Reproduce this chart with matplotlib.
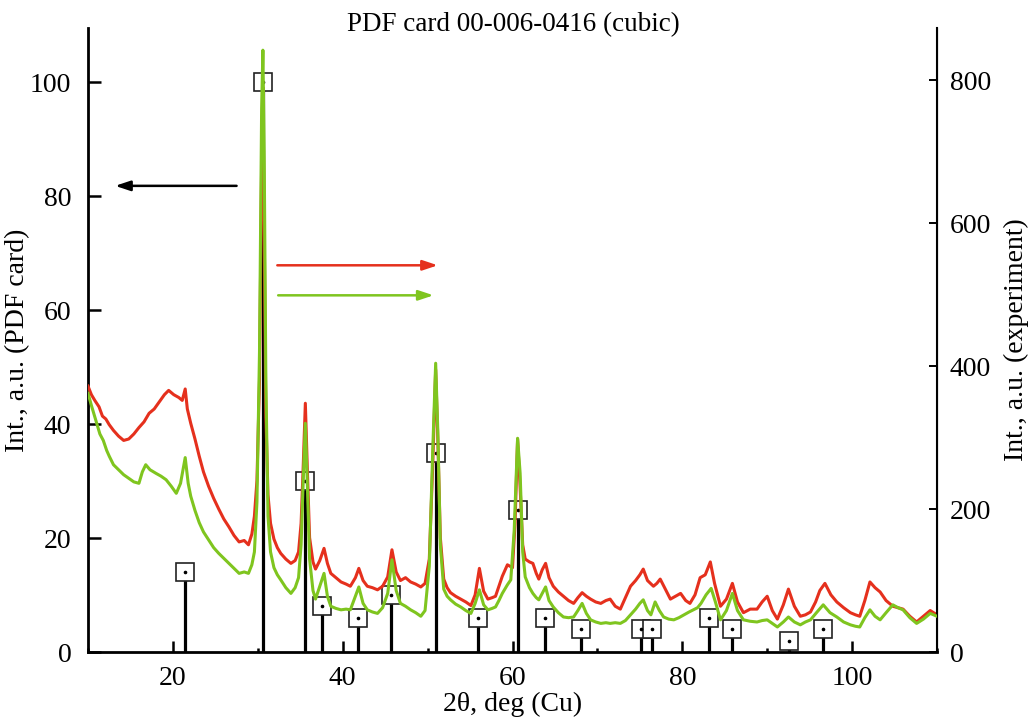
import matplotlib
matplotlib.use("Agg")
import matplotlib.pyplot as plt
from matplotlib.ticker import MultipleLocator

plt.rcParams['font.family'] = ['Liberation Serif', 'DejaVu Serif']
plt.rcParams['mathtext.fontset'] = 'stix'

# PDF card 00-006-0416 reference lines (left axis)
pdf_pos = [21.4, 30.6, 35.6, 37.6, 41.8, 45.7, 51.0, 55.9, 60.7, 63.8, 68.1,
           75.1, 76.4, 83.2, 85.9, 92.6, 96.6]
pdf_int = [14, 100, 30, 8, 6, 10, 35, 6, 25, 6, 4, 4, 4, 6, 4, 2, 4]

# experimental pattern 1 (red), right axis
red_x = [10.0, 10.4, 10.8, 11.3, 11.7, 12.1, 12.5, 13.0, 13.6, 14.2, 14.8, 15.4, 16.0, 16.6, 17.2,
         17.8, 18.4, 19.0, 19.5, 20.1, 20.7, 21.1, 21.45, 21.7, 22.1, 22.6, 23.1, 23.6, 24.2, 24.8,
         25.4, 26.0, 26.6, 27.2, 27.8, 28.4, 28.9, 29.3, 29.6, 29.9, 30.2, 30.45, 30.6, 30.75, 30.95,
         31.2, 31.5, 31.9, 32.3, 32.7, 33.3, 33.9, 34.4, 34.8, 35.1, 35.35, 35.6, 35.85, 36.1, 36.5,
         36.8, 37.3, 37.8, 38.2, 38.6, 39.2, 39.8, 40.4, 40.9, 41.5, 41.9, 42.4, 42.9, 43.5, 44.1,
         44.7, 45.3, 45.8, 46.3, 46.8, 47.4, 48.0, 48.6, 49.2, 49.7, 50.2, 50.6, 50.95, 51.2, 51.5,
         51.9, 52.3, 52.7, 53.3, 53.9, 54.5, 55.1, 55.6, 56.1, 56.6, 57.1, 57.6, 58.0, 58.4, 58.8,
         59.4, 60.0, 60.3, 60.6, 60.9, 61.2, 61.5, 62.0, 62.4, 62.8, 63.1, 63.5, 63.9, 64.3, 64.8,
         65.4, 66.0, 66.6, 67.2, 67.7, 68.2, 68.7, 69.2, 69.8, 70.4, 71.0, 71.5, 72.1, 72.7, 73.3,
         73.9, 74.5, 75.0, 75.4, 75.9, 76.6, 77.0, 77.4, 78.0, 78.6, 79.2, 79.8, 80.4, 80.9, 81.5,
         82.1, 82.7, 83.3, 83.8, 84.5, 85.2, 85.9, 86.5, 87.2, 88.0, 88.8, 89.4, 90.0, 90.6, 91.2,
         91.9, 92.5, 93.2, 93.9, 94.5, 95.1, 95.7, 96.2, 96.8, 97.5, 98.2, 99.0, 99.8, 100.4, 100.9,
         101.5, 102.1, 102.7, 103.3, 104.0, 104.8, 105.4, 106.0, 106.8, 107.6, 108.4, 109.2, 110.0]
red_y = [372, 360, 352, 343, 330, 326, 318, 310, 302, 296, 298, 305, 314, 322, 334,
         340, 350, 360, 366, 360, 356, 352, 368, 340, 320, 298, 274, 252, 232, 215,
         200, 186, 175, 163, 154, 156, 150, 165, 190, 240, 380, 680, 790, 600, 330,
         220, 180, 158, 146, 138, 130, 124, 128, 140, 180, 260, 348, 250, 160, 126,
         116, 128, 145, 124, 110, 104, 98, 95, 92, 104, 117, 100, 92, 90, 87,
         92, 105, 143, 112, 100, 104, 98, 95, 91, 96, 130, 260, 395, 300, 160,
         102, 90, 83, 78, 74, 70, 65, 80, 117, 85, 74, 76, 78, 92, 106,
         122, 118, 180, 298, 230, 150, 130, 126, 124, 110, 102, 115, 124, 104, 92,
         84, 78, 72, 68, 76, 83, 78, 74, 70, 68, 72, 74, 64, 60, 76,
         92, 100, 108, 116, 100, 92, 96, 102, 88, 74, 78, 82, 72, 68, 80,
         104, 108, 126, 96, 64, 74, 96, 70, 55, 60, 60, 70, 78, 58, 46,
         66, 88, 64, 50, 52, 56, 70, 86, 96, 80, 70, 62, 55, 52, 50,
         72, 98, 90, 84, 72, 64, 62, 60, 50, 42, 50, 58, 52]

# experimental pattern 2 (green), right axis
green_x = [10.0, 10.4, 10.9, 11.4, 11.8, 12.2, 12.5, 13.0, 13.6, 14.2, 14.8, 15.4, 16.0, 16.4, 16.8,
           17.3, 18.0, 18.6, 19.2, 19.8, 20.4, 20.9, 21.45, 21.8, 22.1, 22.6, 23.1, 23.6, 24.2, 24.8,
           25.4, 26.0, 26.6, 27.2, 27.8, 28.4, 28.9, 29.3, 29.6, 29.9, 30.2, 30.45, 30.6, 30.75, 30.95,
           31.2, 31.5, 31.9, 32.3, 32.7, 33.3, 33.9, 34.4, 34.8, 35.1, 35.35, 35.6, 35.85, 36.1, 36.5,
           36.8, 37.3, 37.8, 38.2, 38.6, 39.2, 39.8, 40.4, 40.9, 41.5, 41.9, 42.4, 42.9, 43.5, 44.1,
           44.7, 45.3, 45.8, 46.3, 46.8, 47.4, 48.0, 48.6, 49.2, 49.7, 50.2, 50.6, 50.95, 51.2, 51.5,
           51.9, 52.3, 52.7, 53.3, 53.9, 54.5, 55.1, 55.6, 56.1, 56.6, 57.1, 57.6, 58.0, 58.4, 58.8,
           59.4, 59.8, 60.2, 60.6, 60.9, 61.2, 61.5, 62.0, 62.4, 62.8, 63.1, 63.5, 63.9, 64.3, 64.8,
           65.4, 66.0, 66.6, 67.2, 67.7, 68.2, 68.7, 69.2, 69.8, 70.4, 71.0, 71.5, 72.1, 72.7, 73.3,
           73.9, 74.5, 75.0, 75.4, 75.9, 76.3, 76.8, 77.3, 77.8, 78.4, 79.0, 79.6, 80.2, 80.8, 81.3,
           81.8, 82.2, 82.8, 83.4, 83.9, 84.5, 85.2, 85.9, 86.5, 87.2, 88.0, 88.8, 89.4, 90.0, 90.6,
           91.2, 91.9, 92.5, 93.2, 93.9, 94.5, 95.1, 95.8, 96.6, 97.4, 98.2, 99.0, 99.8, 100.4, 100.9,
           101.5, 102.1, 102.7, 103.3, 104.0, 104.8, 105.4, 106.0, 106.8, 107.6, 108.4, 109.2, 110.0]
green_y = [362, 345, 325, 305, 296, 282, 274, 262, 255, 248, 243, 238, 236, 252, 262,
           255, 250, 246, 241, 232, 222, 236, 272, 236, 218, 198, 181, 168, 157, 146,
           138, 131, 124, 117, 110, 112, 110, 122, 140, 210, 420, 760, 842, 700, 380,
           190, 140, 118, 108, 101, 90, 82, 90, 104, 150, 240, 320, 230, 130, 86,
           74, 92, 110, 78, 64, 61, 59, 60, 59, 78, 91, 68, 59, 56, 54,
           62, 82, 129, 86, 68, 64, 59, 55, 50, 58, 120, 280, 404, 310, 150,
           88, 78, 73, 67, 63, 58, 54, 68, 87, 66, 59, 61, 63, 72, 82,
           94, 101, 170, 299, 250, 140, 105, 90, 82, 76, 73, 82, 91, 72, 63,
           55, 49, 48, 49, 58, 68, 54, 45, 42, 40, 41, 40, 41, 40, 44,
           52, 60, 68, 73, 58, 52, 70, 58, 49, 46, 45, 48, 52, 56, 59,
           62, 68, 80, 89, 70, 45, 58, 82, 58, 45, 43, 42, 44, 45, 40,
           35, 42, 49, 42, 38, 42, 45, 55, 66, 55, 49, 42, 38, 36, 35,
           48, 59, 50, 45, 55, 66, 62, 59, 48, 40, 46, 54, 50]

x_major = [20, 40, 60, 80, 100]
left_ticks = [0, 20, 40, 60, 80, 100]
right_ticks = [0, 200, 400, 600, 800]

RED = '#e5301d'
GREEN = '#7fc51f'

fig = plt.figure(figsize=(10.28, 7.19), dpi=100)
ax = fig.add_axes([88/1028, 1-652/719, (937-88)/1028, (652-28)/719])
ax2 = ax.twinx()

# PDF sticks and squares
ax.vlines(pdf_pos, 0, pdf_int, color='black', lw=2.3, zorder=2)
ax.plot(pdf_pos, pdf_int, ls='none', marker='s', ms=12.5, mfc='white', mec='#222222',
        mew=1.2, zorder=3)
ax.plot(pdf_pos, pdf_int, ls='none', marker='o', ms=1.6, mfc='black', mec='black', zorder=4)

ax.set_xlim(10, 110)
ax.set_ylim(0, 109.5)
ax2.set_ylim(0, 873)

# experimental curves
ax2.plot(red_x, red_y, color=RED, lw=2.2, zorder=2)
ax2.plot(green_x, green_y, color=GREEN, lw=2.2, zorder=3)

# spines
ax.spines['top'].set_visible(False)
ax2.spines['top'].set_visible(False)
for s in ['left', 'bottom']:
    ax.spines[s].set_linewidth(2.0)
ax2.spines['right'].set_linewidth(1.5)
ax2.spines['left'].set_visible(False)
ax2.spines['bottom'].set_visible(False)

# ticks
ax.set_xticks(x_major)
ax.xaxis.set_minor_locator(MultipleLocator(10))
ax.set_yticks(left_ticks)
ax.tick_params(axis='x', which='major', direction='in', length=8, width=1.8,
               labelsize=20, pad=10)
ax.tick_params(axis='x', which='minor', direction='in', length=3, width=1.8)
ax.tick_params(axis='y', which='major', direction='in', length=9, width=1.8,
               labelsize=20, pad=12)
ax2.set_yticks(right_ticks)
ax2.tick_params(axis='y', which='major', direction='in', length=6, width=1.4,
                labelsize=20, pad=9)

# labels
ax.set_xlabel('2θ, deg (Cu)', fontsize=20, labelpad=1)
ax.set_ylabel('Int., a.u. (PDF card)', fontsize=20, labelpad=0)
ax2.set_ylabel('Int., a.u. (experiment)', fontsize=20, labelpad=9)
fig.text(513/1028, 1-25/719, 'PDF card 00-006-0416 (cubic)', ha='center', va='center',
         fontsize=19.5)

# arrows
ax.annotate('', xy=(13.2, 81.8), xytext=(27.5, 81.8),
            arrowprops=dict(arrowstyle='-|>,head_length=0.9,head_width=0.3', color='black',
                            lw=1.8, shrinkA=0, shrinkB=0))
ax2.annotate('', xy=(51.2, 541), xytext=(32.3, 541),
             arrowprops=dict(arrowstyle='-|>,head_length=0.9,head_width=0.3', color=RED,
                             lw=1.8, shrinkA=0, shrinkB=0))
ax2.annotate('', xy=(50.7, 499), xytext=(32.4, 499),
             arrowprops=dict(arrowstyle='-|>,head_length=0.9,head_width=0.3', color=GREEN,
                             lw=1.8, shrinkA=0, shrinkB=0))

fig.savefig('out.png', dpi=100)
